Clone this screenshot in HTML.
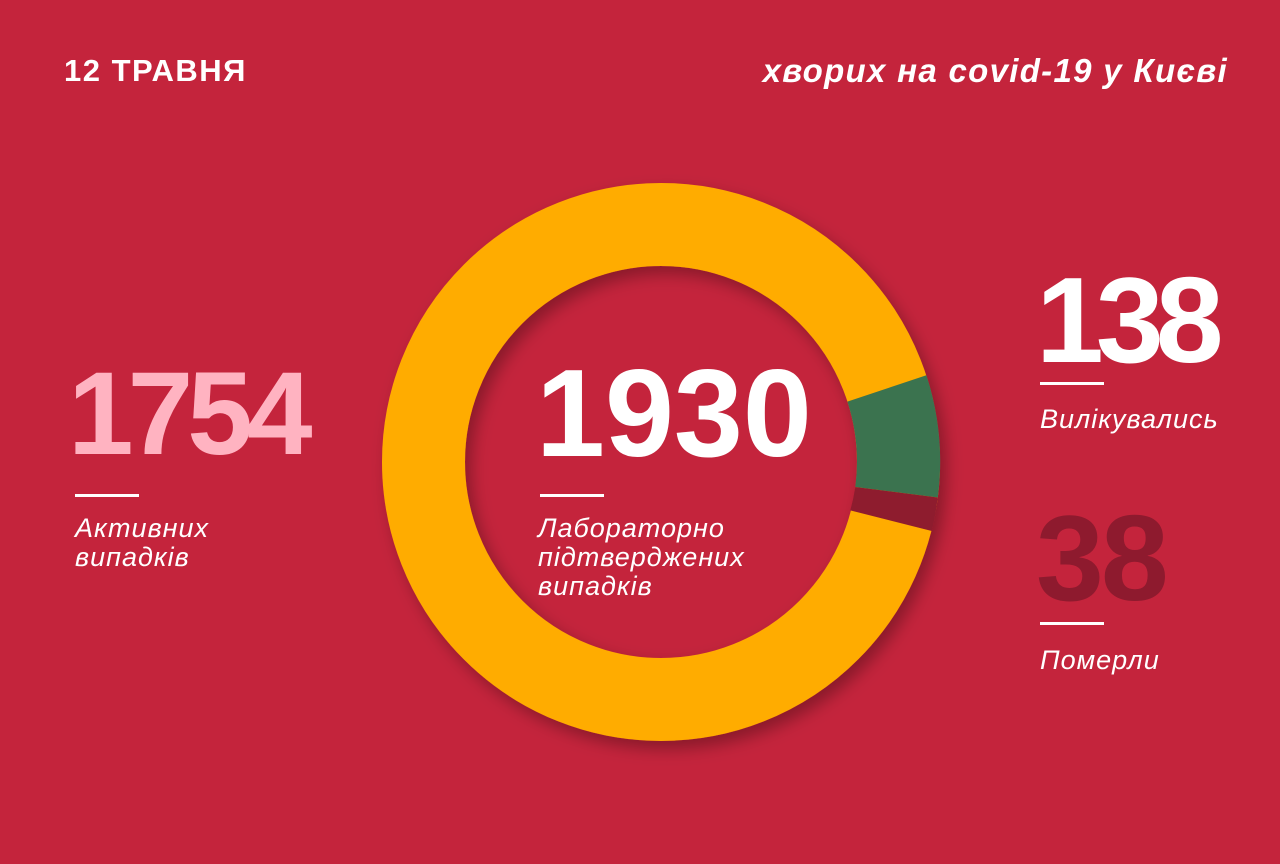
<!DOCTYPE html>
<html><head><meta charset="utf-8"><style>
body{margin:0;width:1280px;height:864px;background:#C4243C;overflow:hidden;position:relative;font-family:"Liberation Sans",sans-serif;color:#fff}
.t{position:absolute;white-space:nowrap}
.n{font-weight:bold;line-height:1}
.bar{position:absolute;height:3px;width:64px;background:#fff}
.l{font-style:italic;font-size:27px;line-height:29px;position:absolute;letter-spacing:1px}
</style></head><body>
<svg width="1280" height="864" style="position:absolute;left:0;top:0">
<defs><filter id="s" x="-20%" y="-20%" width="140%" height="140%"><feDropShadow dx="6" dy="8" stdDeviation="8" flood-color="#000" flood-opacity="0.3"/></filter></defs>
<g filter="url(#s)">
<circle cx="661" cy="462" r="237.5" fill="none" stroke="#FFAC00" stroke-width="83"/>
<path d="M926.4,375.3 A279,279 0 0 1 937.8,497.5 L855.3,487 A196,196 0 0 0 847.4,401.6Z" fill="#3A7350"/>
<path d="M937.8,497.5 A279,279 0 0 1 931.8,531 L850.3,510.4 A196,196 0 0 0 855.3,487Z" fill="#8E1A2E"/>
</g>
</svg>
<div class="t n" style="left:64px;top:55px;font-size:31px;letter-spacing:1.5px">12 ТРАВНЯ</div>
<div class="t n" style="right:52px;top:54px;font-size:33px;font-style:italic;letter-spacing:1.3px">хворих на covid-19 у Києві</div>
<div class="t n" style="left:68px;top:355px;font-size:118px;letter-spacing:-6px;color:#FFB3C1">1754</div>
<div class="bar" style="left:75px;top:494px"></div>
<div class="l" style="left:75px;top:514px">Активних<br>випадків</div>
<div class="t n" style="left:536px;top:352px;font-size:124px;letter-spacing:0px">1930</div>
<div class="bar" style="left:540px;top:494px"></div>
<div class="l" style="left:538px;top:514px">Лабораторно<br>підтверджених<br>випадків</div>
<div class="t n" style="left:1036px;top:259px;font-size:122px;letter-spacing:-8px">138</div>
<div class="bar" style="left:1040px;top:382px"></div>
<div class="l" style="left:1040px;top:405px">Вилікувались</div>
<div class="t n" style="left:1036px;top:497px;font-size:122px;letter-spacing:-3px;color:#8E1A2E">38</div>
<div class="bar" style="left:1040px;top:622px"></div>
<div class="l" style="left:1040px;top:646px">Померли</div>
</body></html>
